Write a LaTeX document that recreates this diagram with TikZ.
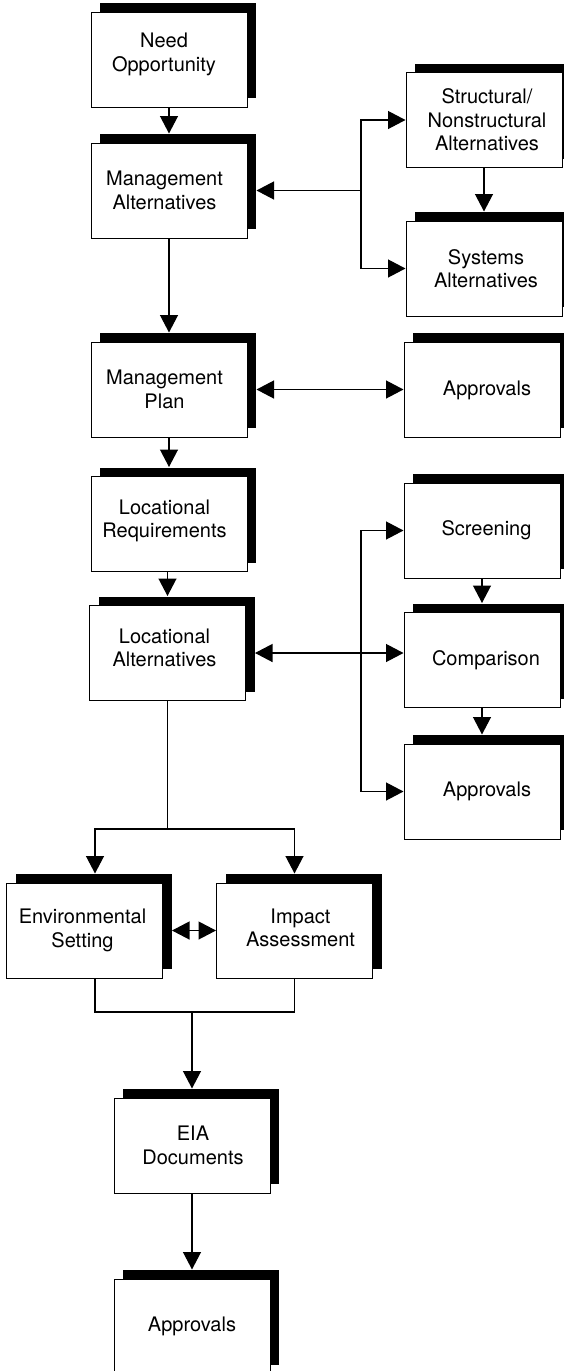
\documentclass[tikz,border=0pt]{standalone}
\usepackage{fontspec}
\setmainfont{TeX Gyre Heros}
\usetikzlibrary{arrows.meta,shadows}

\tikzset{
  stepbox/.style={draw, fill=white, line width=1pt, minimum width=156pt,
    minimum height=95pt, inner sep=0pt,
    general shadow={fill=black, shadow xshift=9pt, shadow yshift=9pt}},
  txt/.style={align=center, inner sep=0pt, font=\fontsize{20}{23.5}\selectfont},
  link/.style={line width=1.2pt},
  arr/.style={link, -{Triangle[length=17.5pt,width=18pt]}},
  arrboth/.style={link, {Triangle[length=17.5pt,width=18pt]}-{Triangle[length=17.5pt,width=18pt]}}
}

\begin{document}
\begin{tikzpicture}[x=1pt,y=-1pt]
\useasboundingbox (0,0) rectangle (563,1371);

% main column
\node[stepbox, label={[txt,xshift=-5pt,yshift=5pt]center:{Need\\Opportunity}}] (need) at (169,59.5) {};
\node[stepbox, label={[txt,xshift=-4.5pt]center:{Management\\Alternatives}}] (malt) at (169,190.5) {};
\node[stepbox, label={[txt,xshift=-4.5pt]center:{Management\\Plan}}] (mplan) at (169,389.5) {};
\node[stepbox, label={[txt,xshift=-4.5pt,yshift=3pt]center:{Locational\\Requirements}}] (lreq) at (169,524) {};
\node[stepbox, label={[txt,xshift=-3pt,yshift=5pt]center:{Locational\\Alternatives}}] (lalt) at (167.5,653) {};

% side column
\node[stepbox, label={[txt,xshift=3pt]center:{Structural/\\Nonstructural\\Alternatives}}] (struct) at (484,120) {};
\node[stepbox, label={[txt,xshift=2pt]center:{Systems\\Alternatives}}] (sys) at (484,268.5) {};
\node[stepbox, label={[txt,xshift=5pt,yshift=-1pt]center:{Approvals}}] (apprA) at (482,389.5) {};
\node[stepbox, label={[txt,xshift=4.5pt]center:{Screening}}] (screen) at (482,530.5) {};
\node[stepbox, label={[txt,xshift=4pt]center:{Comparison}}] (comp) at (482,660) {};
\node[stepbox, label={[txt,xshift=5pt]center:{Approvals}}] (apprB) at (482,791.5) {};

% assessment stage
\node[stepbox, label={[txt,xshift=-2pt]center:{Environmental\\Setting}}] (env) at (84.5,930.5) {};
\node[stepbox, label={[txt,xshift=6pt,yshift=2.5pt]center:{Impact\\Assessment}}] (imp) at (294.5,930.5) {};
\node[stepbox, label={[txt,xshift=1pt]center:{EIA\\Documents}}] (eia) at (192,1145.5) {};
\node[stepbox, label={[txt]center:{Approvals}}] (apprC) at (192,1326.5) {};

% junction points
\coordinate (jx) at (361,0);
\coordinate (split) at (167.5,829);
\coordinate (merge) at (192,1012);

% connectors
\draw[arr] (need.south) -- ([yshift=9pt]malt.north);
\draw[arr] (malt.east -| jx) -- ([xshift=9pt]malt.east);
\draw[arr] (sys.west -| jx) |- (struct.west);
\draw[arr] (struct.west -| jx) |- (sys.west);
\draw[arr] (struct.south) -- ([yshift=9pt]sys.north);

\draw[arr] (malt.south) -- ([yshift=9pt]mplan.north);
\draw[arrboth] ([xshift=9pt]mplan.east) -- (mplan.east -| apprA.west);
\draw[arr] (mplan.south) -- ([yshift=9pt]lreq.north);
\draw[arr] (lreq.south -| lalt.south) -- ([yshift=9pt]lalt.north);

\draw[arrboth] ([xshift=9pt]lalt.east) -- (lalt.east -| comp.west);
\draw[arr] (apprB.west -| jx) |- (screen.west);
\draw[arr] (screen.west -| jx) |- (apprB.west);
\draw[arr] (screen.south) -- ([yshift=9pt]comp.north);
\draw[arr] (comp.south) -- ([yshift=9pt]apprB.north);

\draw[arr] (lalt.south) -- (split) -| ([xshift=10.5pt,yshift=9pt]env.north);
\draw[arr] (split) -| ([yshift=9pt]imp.north);
\draw[arrboth] ([xshift=9pt]env.east) -- (imp.west);

\draw[link] ([xshift=10.5pt]env.south) |- (imp.south |- merge) -- (imp.south);
\draw[arr] (merge) -- ([yshift=9pt]eia.north);
\draw[arr] (eia.south) -- ([yshift=9pt]apprC.north);
\end{tikzpicture}
\end{document}
